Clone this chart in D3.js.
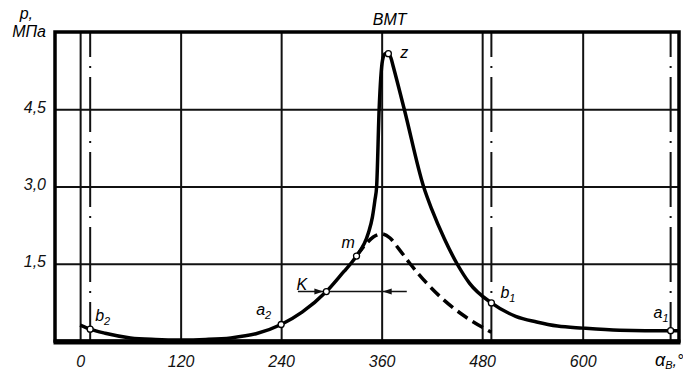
<!DOCTYPE html>
<html>
<head>
<meta charset="utf-8">
<script src="https://cdn.jsdelivr.net/npm/d3@7"></script>
<style>
body { margin: 0; background: #fff; }
svg { display: block; font-family: "Liberation Sans", Arial, sans-serif; font-style: italic; }
</style>
</head>
<body>
<svg width="683" height="371"></svg>
<script>
// tick values
var xTicks = [0, 120, 240, 360, 480, 600];
var yTicks = [1.5, 3.0, 4.5];

// valve timing lines (b2, b1, a1), degrees
var valveAngles = [12, 491, 705];

// indicator diagram, solid curve
var angle = [0, 12, 30, 60, 90, 120, 150, 180, 210, 240, 265, 294, 315, 323, 330, 344, 349, 352, 354, 357, 361, 364, 368, 371, 374, 387, 410, 420, 435, 450, 465, 491, 520, 545, 570, 600, 644, 705, 715];
var pressure = [0.31, 0.23, 0.15, 0.06, 0.03, 0.02, 0.03, 0.06, 0.14, 0.32, 0.56, 0.96, 1.35, 1.5, 1.65, 2.09, 2.41, 2.74, 3.0, 4.5, 5.45, 5.58, 5.58, 5.5, 5.32, 4.5, 3.0, 2.55, 1.98, 1.5, 1.12, 0.74, 0.48, 0.37, 0.29, 0.25, 0.21, 0.2, 0.2];

// compression without ignition, dashed curve
var angleMotor = [330, 340, 350, 360, 370, 380, 394, 414, 434, 460, 491];
var pressureMotor = [1.65, 1.86, 2.02, 2.08, 2.0, 1.8, 1.5, 1.12, 0.8, 0.47, 0.17];

// marked points
var pointNames = ["b", "a", "K", "m", "z", "b", "a"];
var pointSubs = ["2", "2", "", "", "", "1", "1"];
var pointAngles = [12, 240, 294, 330, 368, 491, 705];
var pointValues = [0.23, 0.32, 0.96, 1.65, 5.58, 0.74, 0.2];

// ignition advance: K -> TDC, and extent of the dimension line
var advance = [294, 360];
var advanceLine = [260, 390];

var svg = d3.select("svg");

var x = d3.scaleLinear().domain([-30, 715]).range([55, 679]),
    y = d3.scaleLinear().domain([0, 6]).range([341, 32]);

var fmt = function(d) { return d.toFixed(1).replace(".", ","); };

// grid
svg.append("g")
    .attr("transform", "translate(0," + y(0) + ")")
    .call(d3.axisBottom(x).tickValues(xTicks).tickSize(-(y(0) - y(6))).tickFormat(""))
    .call(function(g) { g.select(".domain").remove(); })
    .selectAll("line").attr("stroke", "#111").attr("stroke-width", 2);

svg.append("g")
    .attr("transform", "translate(" + x(-30) + ",0)")
    .call(d3.axisLeft(y).tickValues(yTicks).tickSize(-(x(715) - x(-30))).tickFormat(""))
    .call(function(g) { g.select(".domain").remove(); })
    .selectAll("line").attr("stroke", "#111").attr("stroke-width", 2);

// tick labels
var xAxis = svg.append("g")
    .attr("transform", "translate(0," + y(0) + ")")
    .call(d3.axisBottom(x).tickValues(xTicks).tickSize(0).tickPadding(14.5));
xAxis.select(".domain").remove();
xAxis.selectAll("text").style("font-size", "16px").attr("fill", "#111");

var yAxis = svg.append("g")
    .attr("transform", "translate(" + x(-30) + ",0)")
    .call(d3.axisLeft(y).tickValues(yTicks).tickSize(0).tickPadding(9).tickFormat(fmt));
yAxis.select(".domain").remove();
yAxis.selectAll("text").style("font-size", "16px").attr("dy", "0.2em").attr("fill", "#111");

// valve timing dash-dot lines
svg.selectAll(".valve")
    .data(valveAngles)
  .enter().append("line")
    .attr("class", "valve")
    .attr("x1", function(d) { return x(d); })
    .attr("x2", function(d) { return x(d); })
    .attr("y1", y(6))
    .attr("y2", y(0))
    .attr("stroke", "#111")
    .attr("stroke-width", 2)
    .attr("stroke-dasharray", "55,9,2,9")
    .attr("stroke-dashoffset", 30);

// frame
svg.append("rect")
    .attr("x", x(-30)).attr("y", y(6))
    .attr("width", x(715) - x(-30)).attr("height", y(0) - y(6))
    .attr("fill", "none").attr("stroke", "#000").attr("stroke-width", 3.5);
svg.append("line")
    .attr("x1", x(-30) - 1.5).attr("x2", x(715) + 1.5)
    .attr("y1", y(0) + 1).attr("y2", y(0) + 1)
    .attr("stroke", "#000").attr("stroke-width", 5);

var line = d3.line()
    .curve(d3.curveMonotoneX)
    .x(function(d) { return x(d[0]); })
    .y(function(d) { return y(d[1]); });

svg.append("path")
    .datum(d3.zip(angleMotor, pressureMotor))
    .attr("d", line)
    .attr("fill", "none")
    .attr("stroke", "#000")
    .attr("stroke-width", 3.5)
    .attr("stroke-dasharray", "12,6");

svg.append("path")
    .datum(d3.zip(angle, pressure))
    .attr("d", line)
    .attr("fill", "none")
    .attr("stroke", "#000")
    .attr("stroke-width", 3.5)
    .attr("stroke-linejoin", "round");

// ignition advance dimension
var ky = y(pointValues[2]);
svg.append("line")
    .attr("x1", x(advanceLine[0])).attr("x2", x(advanceLine[1]))
    .attr("y1", ky).attr("y2", ky)
    .attr("stroke", "#111").attr("stroke-width", 1.5);
var tipL = x(advance[0]) - 3, tipR = x(advance[1]) + 1;
svg.append("path")
    .attr("d", "M" + tipL + "," + ky + "l-9,-3l0,6z")
    .attr("fill", "#111");
svg.append("path")
    .attr("d", "M" + tipR + "," + ky + "l9,-3l0,6z")
    .attr("fill", "#111");

// points
var pts = d3.range(pointNames.length).map(function(i) {
  return {name: pointNames[i], sub: pointSubs[i], a: pointAngles[i], p: pointValues[i]};
});
var offsets = [[5, -8], [-25, -10], [-30, -2], [-15, -8], [12, 4], [9, -5], [-17, -13]];

svg.selectAll(".pt")
    .data(pts)
  .enter().append("circle")
    .attr("class", "pt")
    .attr("cx", function(d) { return x(d.a); })
    .attr("cy", function(d) { return y(d.p); })
    .attr("r", 3)
    .attr("fill", "#fff")
    .attr("stroke", "#000")
    .attr("stroke-width", 1.3);

var lbl = svg.selectAll(".lbl")
    .data(pts)
  .enter().append("text")
    .attr("class", "lbl")
    .attr("x", function(d, i) { return x(d.a) + offsets[i][0]; })
    .attr("y", function(d, i) { return y(d.p) + offsets[i][1]; })
    .style("font-size", "16px")
    .text(function(d) { return d.name; });
lbl.append("tspan")
    .attr("dy", 4)
    .style("font-size", "11px")
    .text(function(d) { return d.sub; });

// titles
svg.append("text")
    .attr("x", x(360) + 8).attr("y", 25)
    .attr("text-anchor", "middle")
    .style("font-size", "16px")
    .text("ВМТ");
svg.append("text")
    .attr("x", 33).attr("y", 19)
    .attr("text-anchor", "end")
    .style("font-size", "16px")
    .text("p,");
svg.append("text")
    .attr("x", 46).attr("y", 37)
    .attr("text-anchor", "end")
    .style("font-size", "16px")
    .text("МПа");

var ax = svg.append("text")
    .attr("x", 655).attr("y", 366)
    .style("font-size", "18px")
    .text("α");
ax.append("tspan").attr("dy", 3).style("font-size", "11px").text("В");
ax.append("tspan").attr("dy", -3).style("font-size", "16px").text(",°");
</script>
</body>
</html>
